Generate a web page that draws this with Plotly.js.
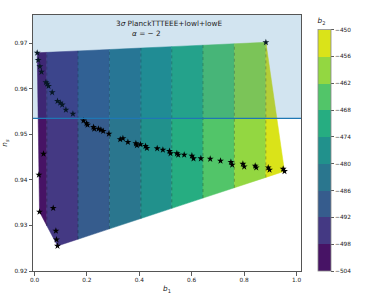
<!DOCTYPE html>
<html><head><meta charset="utf-8">
<script src="https://cdn.plot.ly/plotly-3.0.1.min.js"></script>
<style>html,body{margin:0;padding:0;background:#fff;} #plot{width:374px;height:299px;}</style>
</head><body><div id="plot"></div>
<script>
// scatter points (b1, n_s)
const b1 = [0.0103,0.0141,0.0206,0.0267,0.0435,0.0485,0.0535,0.0676,0.0878,0.0981,0.1057,0.1199,0.1466,
  0.1870,0.1985,0.2023,0.2252,0.2279,0.2443,0.2534,0.2622,0.2840,0.3272,0.3375,0.3565,0.3870,0.3908,
  0.4046,0.4237,0.4290,0.4683,0.4901,0.5153,0.5191,0.5435,0.5485,0.5714,0.6008,0.6069,0.6351,0.6707,
  0.7100,0.7497,0.7546,0.7954,0.8004,0.8424,0.8463,0.8921,0.8971,0.9492,0.9542,
  0.8832,0.0344,0.0168,0.0191,0.0714,0.0817,0.0840,0.0878];
const ns = [0.9679,0.9663,0.9649,0.9637,0.9614,0.9611,0.9606,0.9592,0.9573,0.9569,0.9565,0.9554,0.9545,
  0.9530,0.9524,0.9521,0.9516,0.9512,0.9512,0.9510,0.9507,0.9501,0.9489,0.9491,0.9483,0.9480,0.9476,
  0.9478,0.9474,0.9470,0.9469,0.9466,0.9463,0.9458,0.9458,0.9455,0.9455,0.9453,0.9447,0.9447,0.9446,
  0.9442,0.9439,0.9433,0.9435,0.9429,0.9431,0.9427,0.9427,0.9422,0.9424,0.9419,
  0.9702,0.9457,0.9411,0.9330,0.9338,0.9288,0.9269,0.9255];
// b2 contour levels and colours
const levels = [-504,-498,-492,-486,-480,-474,-468,-462,-456,-450];
const bandColors = ['#471365','#443983','#365c8d','#2a768e','#21918c','#26ad81','#52c569','#93d741','#dae319'];
// b1 position of each b2 contour line
const contourLevels = [-498,-492,-486,-480,-474,-468,-462,-456];
const contourB1 = [0.047,0.166,0.286,0.406,0.524,0.643,0.763,0.883];
const planckNsMin = 0.9535;
const xTicks = [0.0,0.2,0.4,0.6,0.8,1.0];
const yTicks = [0.92,0.93,0.94,0.95,0.96,0.97];
const xRange = [-0.0057, 1.0172];
const yRange = [0.92, 0.9762];

// convex hull (monotone chain)
function hull(px, py){
  const pts = px.map((x,i)=>[x,py[i]]).sort((a,b)=>a[0]-b[0]||a[1]-b[1]);
  const cross=(o,a,b)=>(a[0]-o[0])*(b[1]-o[1])-(a[1]-o[1])*(b[0]-o[0]);
  const lo=[],up=[];
  for(const p of pts){while(lo.length>=2&&cross(lo[lo.length-2],lo[lo.length-1],p)<=0)lo.pop();lo.push(p);}
  for(let i=pts.length-1;i>=0;i--){const p=pts[i];while(up.length>=2&&cross(up[up.length-2],up[up.length-1],p)<=0)up.pop();up.push(p);}
  up.pop();lo.pop();return lo.concat(up);
}
function clipX(poly, c, keepGreater){
  const out=[];
  const inside=p=>keepGreater?p[0]>=c:p[0]<=c;
  for(let i=0;i<poly.length;i++){
    const a=poly[i], b=poly[(i+1)%poly.length];
    const ia=inside(a), ib=inside(b);
    if(ia) out.push(a);
    if(ia!==ib){const t=(c-a[0])/(b[0]-a[0]); out.push([c, a[1]+t*(b[1]-a[1])]);}
  }
  return out;
}
function verticalSpan(poly, c){
  const ys=[];
  for(let i=0;i<poly.length;i++){
    const a=poly[i], b=poly[(i+1)%poly.length];
    if((a[0]-c)*(b[0]-c)<=0 && a[0]!==b[0]){const t=(c-a[0])/(b[0]-a[0]); ys.push(a[1]+t*(b[1]-a[1]));}
  }
  return [Math.min(...ys), Math.max(...ys)];
}
const H = hull(b1, ns);
const traces = [];
for(let i=0;i<levels.length-1;i++){
  const li = contourLevels.indexOf(levels[i]);
  const hi = contourLevels.indexOf(levels[i+1]);
  let poly = H.slice();
  if(li>=0) poly = clipX(poly, contourB1[li], true);
  if(hi>=0) poly = clipX(poly, contourB1[hi], false);
  if(poly.length<3) continue;
  traces.push({type:'scatter', mode:'lines', x:poly.map(p=>p[0]).concat([poly[0][0]]), y:poly.map(p=>p[1]).concat([poly[0][1]]),
    fill:'toself', fillcolor:bandColors[i], line:{color:bandColors[i], width:0.5}, hoverinfo:'skip', showlegend:false});
}
contourB1.forEach(c=>{
  const s = verticalSpan(H, c);
  traces.push({type:'scatter', mode:'lines', x:[c,c], y:s, line:{color:'rgba(0,0,0,0.4)', width:0.7, dash:'dot'}, showlegend:false, hoverinfo:'skip'});
});
traces.push({type:'scatter', mode:'markers', x:b1, y:ns, marker:{symbol:'star', size:5.2, color:'#000', line:{width:0}}, showlegend:false});
const cs=[];
bandColors.forEach((c,i)=>{cs.push([i/9,c]);cs.push([(i+1)/9,c]);});
traces.push({type:'scatter', mode:'markers', x:[null], y:[null], showlegend:false,
  marker:{color:[levels[0]], cmin:levels[0], cmax:levels[levels.length-1], colorscale:cs, showscale:true,
    colorbar:{thickness:12.5, thicknessmode:'pixels', len:256, lenmode:'pixels', x:1.0634, xanchor:'left', xpad:0,
      y:0.5, yanchor:'middle', ypad:0, outlinecolor:'#888', outlinewidth:0.8,
      tickvals:levels, tickformat:'d', ticks:'outside', ticklen:3, tickwidth:0.8, tickcolor:'#333',
      tickfont:{family:'DejaVu Sans', size:5.8, color:'#222'},
      title:{text:'<i>b</i><sub>2</sub>', side:'top', font:{family:'DejaVu Sans', size:7.3, color:'#222'}}}}});

const font = {family:'DejaVu Sans', size:5.8, color:'#222'};
const layout = {
  width:374, height:299, margin:{l:33, r:73, t:15, b:28}, paper_bgcolor:'#fff', plot_bgcolor:'#fff',
  showlegend:false, font:font,
  xaxis:{range:xRange, tickvals:xTicks, tickformat:'.1f', ticks:'outside', ticklen:3.5, tickwidth:0.8, tickcolor:'#333',
    showgrid:false, zeroline:false, showline:true, mirror:true, linecolor:'#555', linewidth:1, tickfont:font,
    title:{text:'<i>b</i><sub>1</sub>', font:{family:'DejaVu Sans', size:7.3, color:'#222'}, standoff:3}, automargin:false},
  yaxis:{range:yRange, tickvals:yTicks, tickformat:'.2f', ticks:'outside', ticklen:3.5, tickwidth:0.8, tickcolor:'#333',
    showgrid:false, zeroline:false, showline:true, mirror:true, linecolor:'#555', linewidth:1, tickfont:font,
    title:{text:'<i>n<sub>s</sub></i>', font:{family:'DejaVu Sans', size:7.3, color:'#222'}, standoff:5}, automargin:false},
  shapes:[
    {type:'rect', xref:'paper', x0:0, x1:1, yref:'y', y0:planckNsMin, y1:yRange[1], fillcolor:'rgba(31,119,180,0.2)', line:{width:0}, layer:'above'},
    {type:'line', xref:'paper', x0:0, x1:1, yref:'y', y0:planckNsMin, y1:planckNsMin, line:{color:'#1f77b4', width:1.3}, layer:'above'}
  ],
  annotations:[
    {xref:'paper', yref:'paper', x:0.3015, y:0.967, xanchor:'left', yanchor:'middle', showarrow:false,
      text:'3<i>σ</i> PlanckTTTEEE+lowl+lowE', font:{family:'DejaVu Sans', size:7.3, color:'#222'}},
    {xref:'paper', yref:'paper', x:0.361, y:0.928, xanchor:'left', yanchor:'middle', showarrow:false,
      text:'<i>α</i> = − 2', font:{family:'DejaVu Sans', size:7.3, color:'#222'}}
  ]
};
Plotly.newPlot('plot', traces, layout, {staticPlot:true, displayModeBar:false});
</script></body></html>
